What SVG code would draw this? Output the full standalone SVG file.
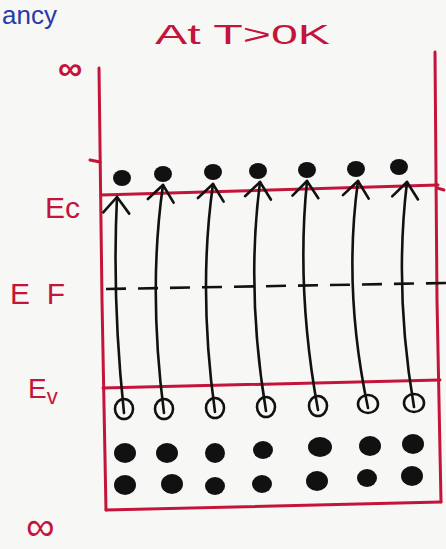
<svg xmlns="http://www.w3.org/2000/svg" width="446" height="549" viewBox="0 0 446 549">
<style>
.red{stroke:#c4143a;stroke-width:3;fill:none;stroke-linecap:round}
.lbl{fill:#c4143a;font-family:"Liberation Sans",Arial,sans-serif}
.blue{fill:#2a3aa8;font-family:"Liberation Sans",Arial,sans-serif}
.arr{stroke:#111;stroke-width:2.6;fill:none;stroke-linecap:round;marker-end:url(#chev)}
.e{fill:#111}
.h{stroke:#111;stroke-width:2.6;fill:none}
</style>
<defs>
<marker id="chev" viewBox="-20 -16 24 32" refX="0" refY="0" markerWidth="24" markerHeight="32" markerUnits="userSpaceOnUse" orient="auto">
<path d="M-16,-13 L0,0 L-16,13" stroke="#111" stroke-width="2.6" fill="none" stroke-linecap="round" stroke-linejoin="round"/>
</marker>
</defs>
<rect width="446" height="549" fill="#f7f7f5"/>
<g id="labels">
<text class="blue" x="2" y="24" font-size="26">ancy</text>
<text class="lbl" x="155" y="44" font-size="28" textLength="175" lengthAdjust="spacingAndGlyphs">At T&gt;0K</text>
<text class="lbl" x="58" y="80" font-size="34" font-weight="bold">∞</text>
<text class="lbl" x="45" y="218" font-size="30">Ec</text>
<text class="lbl" x="10" y="304" font-size="30" textLength="55" lengthAdjust="spacing">E F</text>
<text class="lbl" x="28" y="398" font-size="28">E<tspan font-size="22" dy="6">v</tspan></text>
<text class="lbl" x="26" y="540" font-size="40">∞</text>
</g>
<g id="band-box">
<path class="red" d="M99,68 L102,300 L106,510"/>
<path class="red" d="M435,52 L437,300 L441,502"/>
<path class="red" d="M106,510 L441,502"/>
<path class="red" d="M90,160 L100,162"/>
<path class="red" d="M437,188 L444,190"/>
</g>
<g id="Ec-level"><path class="red" d="M101,195 L438,185"/></g>
<g id="Ev-level"><path class="red" d="M103,388 L440,380"/></g>
<g id="EF-level"><path d="M106,289 L446,283" stroke="#111" stroke-width="2.6" stroke-dasharray="20 12" fill="none"/></g>
<g id="conduction-electrons">
<ellipse class="e" cx="122" cy="178" rx="9" ry="8"/>
<ellipse class="e" cx="163" cy="174" rx="9" ry="8"/>
<ellipse class="e" cx="213" cy="172" rx="9" ry="8"/>
<ellipse class="e" cx="258" cy="171" rx="9" ry="8"/>
<ellipse class="e" cx="307" cy="170" rx="9" ry="8"/>
<ellipse class="e" cx="356" cy="169" rx="9" ry="8"/>
<ellipse class="e" cx="399" cy="167" rx="9" ry="8"/>
</g>
<g id="holes">
<ellipse class="h" cx="124" cy="409" rx="9" ry="10"/>
<ellipse class="h" cx="164" cy="409" rx="9" ry="10"/>
<ellipse class="h" cx="215" cy="408" rx="9" ry="10"/>
<ellipse class="h" cx="266" cy="407" rx="9" ry="10"/>
<ellipse class="h" cx="318" cy="406" rx="9" ry="10"/>
<ellipse class="h" cx="368" cy="404" rx="10" ry="9"/>
<ellipse class="h" cx="414" cy="403" rx="10" ry="9"/>
</g>
<g id="valence-electrons">
<ellipse class="e" cx="125" cy="453" rx="11" ry="10"/>
<ellipse class="e" cx="167" cy="453" rx="11" ry="10"/>
<ellipse class="e" cx="215" cy="453" rx="10" ry="10"/>
<ellipse class="e" cx="263" cy="450" rx="10" ry="9"/>
<ellipse class="e" cx="320" cy="447" rx="12" ry="10"/>
<ellipse class="e" cx="370" cy="446" rx="11" ry="10"/>
<ellipse class="e" cx="413" cy="444" rx="11" ry="10"/>
<ellipse class="e" cx="125" cy="485" rx="11" ry="10"/>
<ellipse class="e" cx="172" cy="484" rx="11" ry="10"/>
<ellipse class="e" cx="215" cy="486" rx="10" ry="9"/>
<ellipse class="e" cx="262" cy="484" rx="10" ry="9"/>
<ellipse class="e" cx="317" cy="481" rx="11" ry="10"/>
<ellipse class="e" cx="367" cy="478" rx="10" ry="9"/>
<ellipse class="e" cx="412" cy="476" rx="11" ry="10"/>
</g>
<g id="connectors">
<path class="arr" d="M124,413 Q112,300 117,197"/>
<path class="arr" d="M164,413 Q148,290 163,185"/>
<path class="arr" d="M215,412 Q198,290 213,184"/>
<path class="arr" d="M266,411 Q246,290 260,182"/>
<path class="arr" d="M318,410 Q296,290 307,181"/>
<path class="arr" d="M368,408 Q343,290 358,181"/>
<path class="arr" d="M414,407 Q394,290 407,182"/>
</g>
</svg>
